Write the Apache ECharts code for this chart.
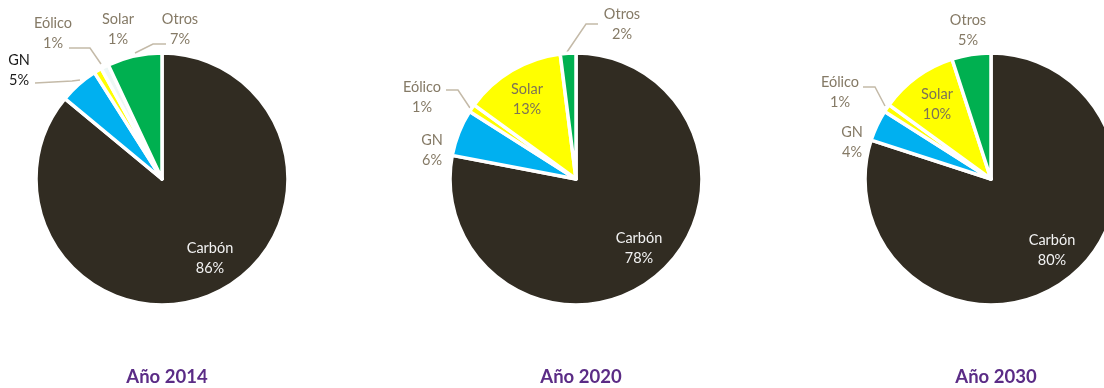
<!DOCTYPE html>
<html>
<head>
<meta charset="utf-8">
<script src="https://cdn.jsdelivr.net/npm/echarts@6/dist/echarts.min.js"></script>
<style>
  html, body { margin: 0; padding: 0; background: #ffffff; }
  #chart { width: 1104px; height: 388px; }
</style>
</head>
<body>
<div id="chart"></div>
<script>
// Generation mix shares (%) for each year
const years = ['Año 2014', 'Año 2020', 'Año 2030'];
const categories = ['Carbón', 'GN', 'Eólico', 'Solar', 'Otros'];
const share2014 = [86, 5, 1, 1, 7];
const share2020 = [78, 6, 1, 13, 2];
const share2030 = [80, 4, 1, 10, 5];
const shares = [share2014, share2020, share2030];

// Drawing setup
const FONT = 'Lato, "Open Sans", sans-serif';
const RADIUS = 126;
const centers = [[162, 179], [576, 179], [991, 179]];
const sliceColors = {
  'Carbón': '#312c22',
  'GN': '#00b0f0',
  'Eólico': '#ffff00',
  'Solar': '#ffff00',
  'Otros': '#00b050'
};
const OUT_TEXT = '#857a66';
const LINE_COLOR = '#c4baa8';

// Label placement per pie: text block centre and optional leader line
const labelPlaces = [
  {
    'Carbón': { x: 210, y: 258, inside: true, color: '#f2f2f2' },
    'GN': { x: 19, y: 70, color: '#1a1a1a', line: [[80, 80], [72, 81], [35, 83]] },
    'Eólico': { x: 53, y: 33, line: [[101, 64], [90, 48], [69, 48]] },
    'Solar': { x: 118, y: 29 },
    'Otros': { x: 180, y: 29, line: [[135, 53], [153, 44], [166, 44]] }
  },
  {
    'Carbón': { x: 639, y: 248, inside: true, color: '#f2f2f2' },
    'GN': { x: 432, y: 150 },
    'Eólico': { x: 422, y: 97, line: [[470, 108], [458, 90], [446, 90]] },
    'Solar': { x: 527, y: 99, inside: true, color: '#7d7356' },
    'Otros': { x: 622, y: 24, line: [[567, 52], [586, 24], [598, 24]] }
  },
  {
    'Carbón': { x: 1052, y: 250, inside: true, color: '#f2f2f2' },
    'GN': { x: 852, y: 142 },
    'Eólico': { x: 840, y: 92, line: [[885, 106], [875, 87], [863, 87]] },
    'Solar': { x: 937, y: 104, inside: true, color: '#7d7356' },
    'Otros': { x: 968, y: 30 }
  }
];

function buildSeries(yearIdx) {
  const places = labelPlaces[yearIdx];
  const data = categories.map((name, i) => {
    const p = places[name];
    let color = sliceColors[name];
    // the 2014 solar sliver is drawn almost white
    if (yearIdx === 0 && name === 'Solar') color = '#eef7f5';
    return {
      name: name,
      value: shares[yearIdx][i],
      itemStyle: { color: color },
      label: {
        position: p.inside ? 'inside' : 'outside',
        color: p.color || OUT_TEXT
      },
      labelLine: { show: !!p.line }
    };
  });
  return {
    type: 'pie',
    center: centers[yearIdx],
    radius: RADIUS,
    startAngle: 90,
    clockwise: true,
    avoidLabelOverlap: false,
    animation: false,
    silent: true,
    itemStyle: { borderColor: '#ffffff', borderWidth: 3.5 },
    label: {
      show: true,
      formatter: '{b}\n{c}%',
      fontFamily: FONT,
      fontSize: 14.5,
      lineHeight: 20,
      align: 'center'
    },
    labelLine: {
      show: true,
      smooth: false,
      lineStyle: { color: LINE_COLOR, width: 1.5 }
    },
    labelLayout: function (params) {
      const p = places[categories[params.dataIndex]];
      const out = { x: p.x, y: p.y, align: 'center', verticalAlign: 'middle' };
      if (p.line) out.labelLinePoints = p.line;
      return out;
    },
    data: data
  };
}

const chart = echarts.init(document.getElementById('chart'), null, { renderer: 'canvas' });
chart.setOption({
  backgroundColor: '#ffffff',
  animation: false,
  title: years.map((t, i) => ({
    text: t,
    left: centers[i][0],
    top: 363,
    textAlign: 'center',
    textStyle: { color: '#5b2c86', fontFamily: FONT, fontSize: 18.5, fontWeight: 'bold' }
  })),
  series: years.map((_, i) => buildSeries(i))
});
</script>
</body>
</html>
